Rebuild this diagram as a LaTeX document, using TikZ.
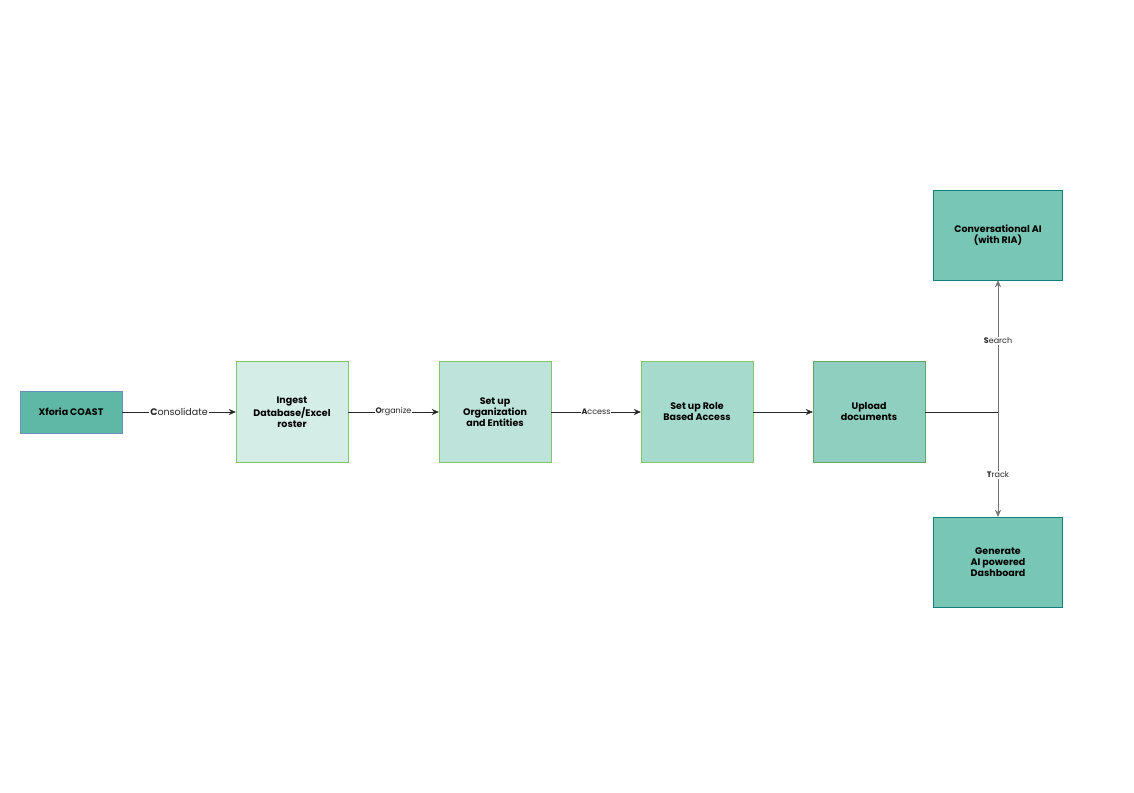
\documentclass[tikz,border=0pt]{standalone}
\usepackage{fontspec}
\setmainfont{Poppins}
\usetikzlibrary{arrows.meta}
\definecolor{fillA}{HTML}{5FB8A5}
\definecolor{fillB}{HTML}{D4EDE6}
\definecolor{fillC}{HTML}{BDE3DA}
\definecolor{fillD}{HTML}{A6DACD}
\definecolor{fillE}{HTML}{8FCFC0}
\definecolor{fillF}{HTML}{78C6B5}
\definecolor{lineG}{HTML}{82C56A}
\definecolor{lineT}{HTML}{12807A}
\definecolor{lineB}{HTML}{6C8EBF}
\tikzset{
    box/.style={draw=lineG, minimum width=112pt, minimum height=101pt, align=center,
        font=\fontsize{9.5}{11}\selectfont\bfseries, inner sep=1pt},
    aibox/.style={draw=lineT, fill=fillF, minimum width=129pt, minimum height=90pt,
        align=center, font=\fontsize{9.5}{11}\selectfont\bfseries},
    flow/.style={-{Stealth[length=7pt,width=6pt]}, black!85},
    lbl/.style={fill=white, inner sep=1pt, font=\fontsize{8}{9}\selectfont},
}
\begin{document}
\begin{tikzpicture}[x=1pt, y=-1pt]
    \useasboundingbox (0,0) rectangle (1134,792);

    \node[draw=lineB, fill=fillA, minimum width=102pt, minimum height=42pt,
        font=\fontsize{9.5}{11}\selectfont\bfseries] (coast) at (71,412) {Xforia COAST};
    \node[box, fill=fillB] (ingest) at (292,412) {Ingest\\Database/Excel\\roster};
    \node[box, fill=fillC] (org) at (495,412) {Set up\\Organization\\and Entities};
    \node[box, fill=fillD] (role) at (697,412) {Set up Role\\Based Access};
    \node[box, fill=fillE, draw=green!40!black!60] (upload) at (869,412) {Upload\\documents};
    \node[aibox] (chat) at (998,235) {Conversational AI\\(with RIA)};
    \node[aibox] (dash) at (998,562) {Generate\\AI powered\\Dashboard};
    \coordinate (split) at (998,412);

    \draw[flow] (coast) -- node[lbl, font=\fontsize{9.5}{11}\selectfont] {\textbf{C}onsolidate} (ingest);
    \draw[flow] (ingest) -- node[lbl] {\textbf{O}rganize} (org);
    \draw[flow] (org) -- node[lbl] {\textbf{A}ccess} (role);
    \draw[flow] (role) -- (upload);
    \draw[black!85] (upload) -- (split);
    \draw[flow, draw=black!55] (split) -- node[lbl, pos=0.54] {\textbf{S}earch} (chat);
    \draw[flow, draw=black!55] (split) -- node[lbl, pos=0.6] {\textbf{T}rack} (dash);
\end{tikzpicture}
\end{document}
